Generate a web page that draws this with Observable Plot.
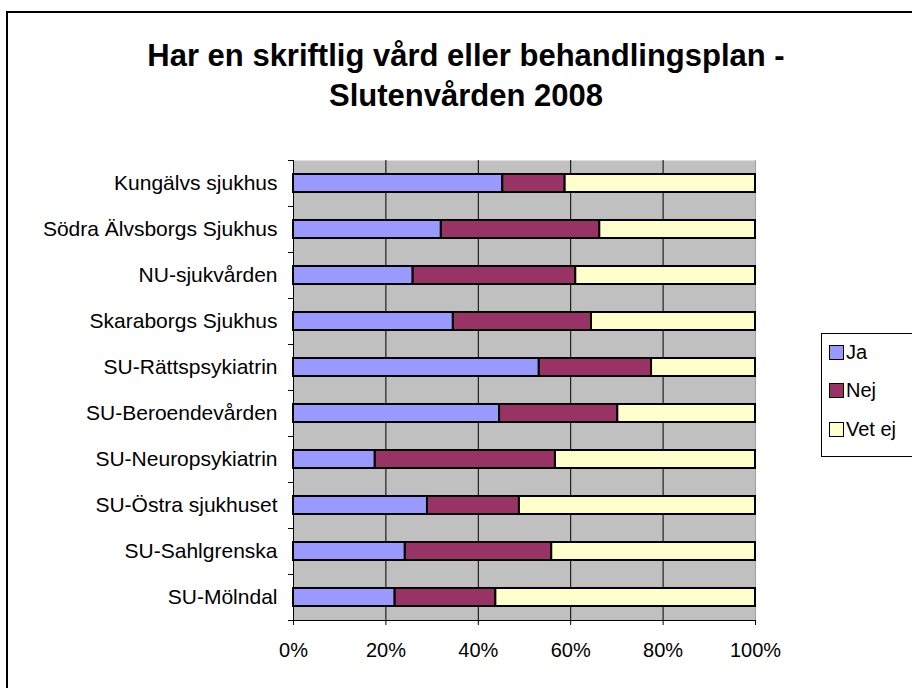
<!DOCTYPE html>
<html><head><meta charset="utf-8">
<script src="https://cdn.jsdelivr.net/npm/d3@7"></script>
<script src="https://cdn.jsdelivr.net/npm/@observablehq/plot@0.6"></script>
<style>
body{margin:0;overflow:hidden;background:#fff;font-family:"Liberation Sans",Arial,sans-serif;}
#wrap{position:relative;width:912px;height:688px;overflow:hidden;background:#fff;}
#chart{position:absolute;left:0;top:0;}
#frame{position:absolute;left:6px;top:11px;width:1000px;height:1000px;border:2px solid #000;box-sizing:border-box;pointer-events:none;}
#title{position:absolute;left:20px;width:892px;top:36px;text-align:center;font-weight:bold;font-size:31px;line-height:40px;color:#000;}
#legend{position:absolute;left:821px;top:333px;width:120px;height:124px;border:1px solid #000;box-sizing:border-box;background:#fff;}
.item{position:absolute;left:7px;font-size:20px;line-height:22px;height:22px;display:flex;align-items:center;color:#000;white-space:nowrap;}
.sw{width:13px;height:13px;border:1px solid #000;margin-right:2px;}
</style></head>
<body>
<div id="wrap">
  <div id="chart"></div>
  <div id="frame"></div>
  <div id="title">Har en skriftlig vård eller behandlingsplan -<br>Slutenvården 2008</div>
  <div id="legend"></div>
</div>
<script>
const categories = ["Kungälvs sjukhus","Södra Älvsborgs Sjukhus","NU-sjukvården","Skaraborgs Sjukhus","SU-Rättspsykiatrin","SU-Beroendevården","SU-Neuropsykiatrin","SU-Östra sjukhuset","SU-Sahlgrenska","SU-Mölndal"];
const series = ["Ja","Nej","Vet ej"];
const colors = ["#9999FF","#993366","#FFFFCC"];
const ja    = [45.3, 32.0, 25.9, 34.6, 53.2, 44.6, 17.7, 29.0, 24.2, 22.0];
const nej   = [13.5, 34.3, 35.2, 29.9, 24.3, 25.6, 39.0, 19.9, 31.7, 21.8];
const vetEj = [41.2, 33.7, 38.9, 35.5, 22.5, 29.8, 43.3, 51.1, 44.1, 56.2];
const xTicks = [0, 0.2, 0.4, 0.6, 0.8, 1];

const valuesBySeries = [ja, nej, vetEj];
const data = categories.flatMap((c, i) => series.map((s, k) => ({cat: c, series: s, value: valuesBySeries[k][i] / 100})));

const chart = Plot.plot({
  width: 912, height: 688,
  marginLeft: 293, marginRight: 157, marginTop: 160, marginBottom: 68,
  x: {domain: [0, 1]},
  y: {domain: categories, padding: 0},
  color: {domain: series, range: colors},
  style: {fontFamily: '"Liberation Sans", Arial, sans-serif', fontSize: "20px", color: "#000", background: "transparent"},
  marks: [
    Plot.frame({fill: "#c0c0c0"}),
    Plot.gridX({ticks: xTicks.slice(1, -1), stroke: "#000", strokeOpacity: 1}),
    Plot.ruleX([1], {stroke: "#a0a0a0"}),
    Plot.barX(data, {x: "value", y: "cat", fill: "series", stroke: "#000", strokeWidth: 2, insetTop: 14, insetBottom: 14}),
    Plot.axisY({tickSize: 0, tickPadding: 16, fontSize: 21, label: null}),
    Plot.axisY({tickSize: 5, dy: -23, tickFormat: () => "", label: null}),
    Plot.axisY({tickSize: 5, dy: 23, tickFormat: () => "", label: null}),
    Plot.ruleX([0], {stroke: "#000"}),
    Plot.ruleY([categories[categories.length - 1]], {dy: 23, stroke: "#000"}),
    Plot.axisX({ticks: xTicks, tickSize: 5, tickPadding: 17, tickFormat: d3.format(".0%"), fontSize: 20, label: null})
  ]
});
document.getElementById("chart").appendChild(chart);

const legend = document.getElementById("legend");
const itemTops = [7, 45, 84];
series.forEach((s, k) => {
  const it = document.createElement("div");
  it.className = "item";
  it.style.top = itemTops[k] + "px";
  const sw = document.createElement("div");
  sw.className = "sw";
  sw.style.background = colors[k];
  const tx = document.createElement("span");
  tx.textContent = s;
  it.appendChild(sw); it.appendChild(tx);
  legend.appendChild(it);
});
</script>
</body></html>
